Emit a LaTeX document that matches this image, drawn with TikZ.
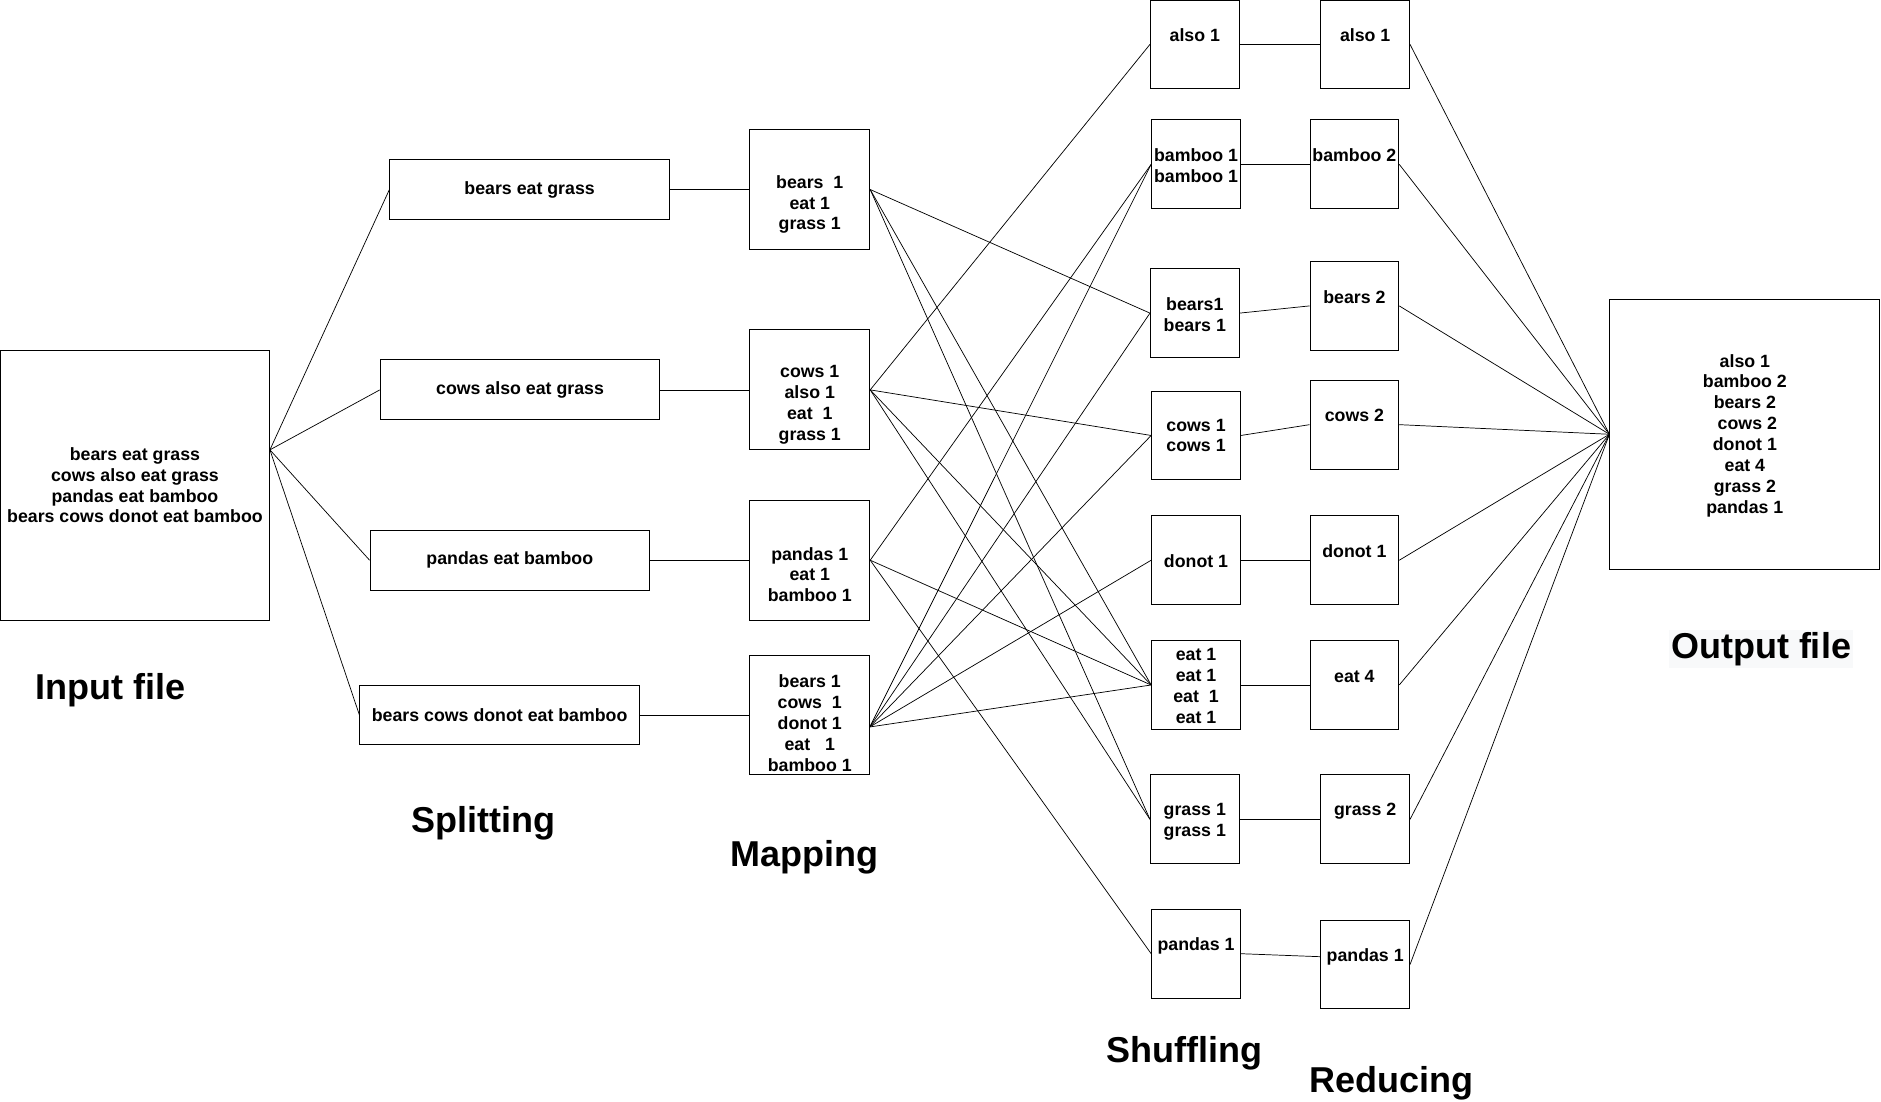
\documentclass[tikz,border=0pt]{standalone}
\usepackage{fontspec}
\setmainfont{Liberation Sans}
\usepackage{tikz}
\usepackage{xcolor}
\usetikzlibrary{positioning}
\definecolor{hilite}{RGB}{248,249,250}

\begin{document}
\begin{tikzpicture}[x=1pt,y=1pt]
\tikzstyle{every node}+=[inner sep=0pt, font=\fontsize{14.8}{17.4}\selectfont\bfseries, align=center]
\tikzstyle{box}=[draw=black, line width=0.8pt, rectangle]
\tikzstyle{bigbox}=[box, minimum width=225, minimum height=225]
\tikzstyle{splitbox}=[box, minimum width=233, minimum height=50]
\tikzstyle{mapbox}=[box, minimum width=100, minimum height=100]
\tikzstyle{keybox}=[box, minimum width=74, minimum height=74]
\tikzstyle{title}=[font=\fontsize{30}{36}\selectfont\bfseries]
\tikzstyle{wire}=[black, line width=0.6pt]
\useasboundingbox (0,0) rectangle (1568,-918);
% input and output files
\node [bigbox] (in) at (112.5,-404.5) {};
\node (intext) at (112.5,-404.5) {bears eat grass\\cows also eat grass\\pandas eat bamboo\\bears cows donot eat bamboo};
\node [bigbox] (out) at (1454.5,-362) {};
\node (outtext) at (1454.5,-363) {also 1\\bamboo 2\\bears 2\\~cows 2\\donot 1\\eat 4\\grass 2\\pandas 1};
\coordinate (inport) at (225,-375);
% splitting
\node [splitbox] (s1) at (441.5,-158) {bears eat grass};
\node [splitbox] (s2) at (433.5,-325) {cows also eat grass};
\node [splitbox] (s3) at (425,-467) {pandas eat bamboo};
\node [splitbox] (s4) at (416.5,-596) {bears cows donot eat bamboo};
% mapping
\node [mapbox] (m1) at (675,-158) {};
\node (m1t) at (675,-170.5) {bears~~1\\eat 1\\grass 1};
\node [mapbox] (m2) at (675,-325) {};
\node (m2t) at (675,-337.5) {cows 1\\also 1\\eat~~1\\grass 1};
\node [mapbox] (m3) at (675,-467) {};
\node (m3t) at (675,-479) {pandas 1\\eat 1\\bamboo 1};
\node [mapbox] (m4) at (675,-596) {};
\node (m4t) at (675,-603) {bears 1\\cows~~1\\donot 1\\eat~~~1\\bamboo 1};
\coordinate (m4port) at (725,-606);
% shuffling
\node [keybox] (h1) at (996,-37) {};
\node (h1t) at (996,-29.5) {also 1};
\node [keybox] (h2) at (997,-137) {};
\node (h2t) at (997,-138) {bamboo 1\\bamboo 1};
\node [keybox] (h3) at (996,-261) {};
\node (h3t) at (996,-262.5) {bears1\\bears 1};
\node [keybox] (h4) at (997,-363) {};
\node (h4t) at (997,-363) {cows 1\\cows 1};
\node [keybox] (h5) at (997,-467) {};
\node (h5t) at (997,-467.5) {donot 1};
\node [keybox] (h6) at (997,-571) {};
\node (h6t) at (997,-572) {eat 1\\eat 1\\eat~~1\\eat 1};
\node [keybox] (h7) at (996,-683) {};
\node (h7t) at (996,-685) {grass 1\\grass 1};
\node [keybox] (h8) at (997,-795) {};
\node (h8t) at (997,-788.5) {pandas 1};
% reducing
\node [keybox] (r1) at (1138,-37) {};
\node (r1t) at (1138,-29.5) {also 1};
\node [keybox] (r2) at (1129,-137) {};
\node (r2t) at (1129,-129.5) {bamboo 2};
\node [keybox] (r3) at (1129,-255) {};
\node (r3t) at (1129,-247.5) {bears 2};
\node [keybox] (r4) at (1129,-354) {};
\node (r4t) at (1129,-346.5) {cows 2};
\node [keybox] (r5) at (1129,-467) {};
\node (r5t) at (1129,-459.5) {donot 1};
\node [keybox] (r6) at (1129,-571) {};
\node (r6t) at (1129,-563.5) {eat 4};
\node [keybox] (r7) at (1138,-683) {};
\node (r7t) at (1138,-676.5) {grass 2};
\node [keybox] (r8) at (1138,-804) {};
\node (r8t) at (1138,-797.5) {pandas 1};
% stage titles
\node [title] (ttin) at (92,-575) {Input file};
\node [title] (ttsplit) at (403,-686) {Splitting};
\node [title] (ttmap) at (671,-715) {Mapping};
\node [title] (ttshuf) at (987,-878) {Shuffling};
\node [title] (ttred) at (1160,-903) {Reducing};
\node [title, fill=hilite, inner sep=2pt] (ttout) at (1468,-541) {Output file};
% input to splits to maps
\draw [wire] (inport) -- (s1.west);
\draw [wire] (inport) -- (s2.west);
\draw [wire] (inport) -- (s3.west);
\draw [wire] (inport) -- (s4.west);
\draw [wire] (s1.east) -- (m1.west);
\draw [wire] (s2.east) -- (m2.west);
\draw [wire] (s3.east) -- (m3.west);
\draw [wire] (s4.east) -- (m4.west);
% maps to shuffle
\draw [wire] (m1.east) -- (h3.west);
\draw [wire] (m1.east) -- (h6.west);
\draw [wire] (m1.east) -- (h7.west);
\draw [wire] (m2.east) -- (h1.west);
\draw [wire] (m2.east) -- (h4.west);
\draw [wire] (m2.east) -- (h6.west);
\draw [wire] (m2.east) -- (h7.west);
\draw [wire] (m3.east) -- (h2.west);
\draw [wire] (m3.east) -- (h6.west);
\draw [wire] (m3.east) -- (h8.west);
\draw [wire] (m4port) -- (h2.west);
\draw [wire] (m4port) -- (h3.west);
\draw [wire] (m4port) -- (h4.west);
\draw [wire] (m4port) -- (h5.west);
\draw [wire] (m4port) -- (h6.west);
% shuffle to reduce to output
\draw [wire] (h1.east) -- (r1.west);
\draw [wire] (h2.east) -- (r2.west);
\draw [wire] (h3.east) -- (r3.west);
\draw [wire] (h4.east) -- (r4.west);
\draw [wire] (h5.east) -- (r5.west);
\draw [wire] (h6.east) -- (r6.west);
\draw [wire] (h7.east) -- (r7.west);
\draw [wire] (h8.east) -- (r8t.west -| r8.west);
\draw [wire] (r1.east) -- (out.west);
\draw [wire] (r2.east) -- (out.west);
\draw [wire] (r3.east) -- (out.west);
\draw [wire] (r4.east) -- (out.west);
\draw [wire] (r5.east) -- (out.west);
\draw [wire] (r6.east) -- (out.west);
\draw [wire] (r7.east) -- (out.west);
\draw [wire] (r8.east) -- (out.west);
\end{tikzpicture}
\end{document}
